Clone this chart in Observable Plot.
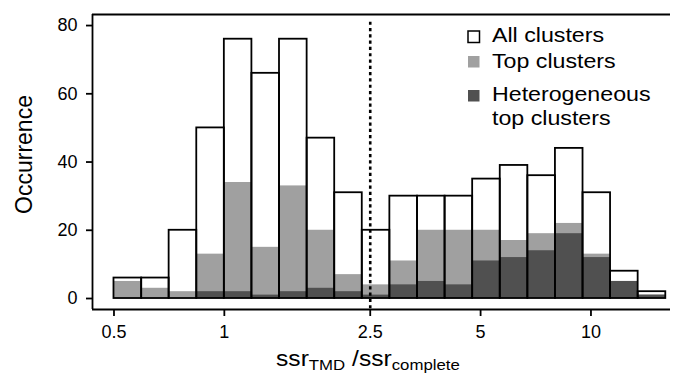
<!DOCTYPE html>
<html><head><meta charset="utf-8">
<script src="https://cdn.jsdelivr.net/npm/d3@7"></script>
<script src="https://cdn.jsdelivr.net/npm/@observablehq/plot@0.6"></script>
<style>body{margin:0;background:#fff} svg{display:block}</style>
</head><body><div id="chart"></div>
<script>
// Bin edges (ratio ssr_TMD / ssr_complete, log-spaced)
const binEdges = [0.5, 0.595, 0.707, 0.841, 1, 1.189, 1.414, 1.682, 2, 2.378, 2.828, 3.364, 4, 4.757, 5.657, 6.727, 8, 9.514, 11.31, 13.45, 16];
const allClusters    = [6, 6, 20, 50, 76, 66, 76, 47, 31, 20, 30, 30, 30, 35, 39, 36, 44, 31, 8, 2];
const topClusters    = [5, 3, 2, 13, 34, 15, 33, 20, 7, 4, 11, 20, 20, 20, 17, 19, 22, 13, 5, 1];
const hetTopClusters = [0, 0, 0, 2, 2, 1, 2, 3, 2, 1, 4, 5, 4, 11, 12, 14, 19, 12, 5, 1];
const xTicks = [0.5, 1, 2.5, 5, 10];
const yTicks = [0, 20, 40, 60, 80];
const threshold = [2.5];
const legendLabels = ["All clusters", "Top clusters", "Heterogeneous", "top clusters"];
const xDomain = [0.4369, 16.48];
const yDomain = [-3.22, 83.24];

const rows = allClusters.map((v, i) => ({
  x1: binEdges[i], x2: binEdges[i + 1], all: v, top: topClusters[i], het: hetTopClusters[i]
}));

const font = "'Liberation Sans', Arial, Helvetica, sans-serif";
const plot = Plot.plot({
  width: 675, height: 378,
  marginLeft: 92, marginRight: 5, marginTop: 14, marginBottom: 69,
  style: {fontFamily: font, fontSize: "18px", background: "#fff", color: "#000"},
  x: {type: "log", domain: xDomain},
  y: {domain: yDomain},
  marks: [
    Plot.rect(rows, {x1: "x1", x2: "x2", y1: 0, y2: "all", fill: "#fff"}),
    Plot.rect(rows, {x1: "x1", x2: "x2", y1: 0, y2: "top", fill: "#a0a0a0"}),
    Plot.rect(rows, {x1: "x1", x2: "x2", y1: 0, y2: "het", fill: "#505050"}),
    Plot.rect(rows, {x1: "x1", x2: "x2", y1: 0, y2: "all", fill: "none", stroke: "#000", strokeWidth: 1.8}),
    Plot.ruleX(threshold, {y1: 81, y2: yDomain[0], stroke: "#000", strokeWidth: 2.6, strokeDasharray: "3.2,3.1"}),
    Plot.ruleY([yDomain[1]], {stroke: "#000", strokeWidth: 1.8}),
    Plot.ruleY([yDomain[0]], {stroke: "#000", strokeWidth: 1.8}),
    Plot.ruleX([xDomain[0]], {stroke: "#000", strokeWidth: 1.8}),
    Plot.axisX({ticks: xTicks, tickFormat: d => String(d), tickSize: 7, tickPadding: 9, label: null, strokeWidth: 1.8}),
    Plot.axisY({ticks: yTicks, tickSize: 6, tickPadding: 9, label: null, strokeWidth: 1.8})
  ]
});
document.getElementById("chart").appendChild(plot);

const svg = d3.select(plot);
// y-axis title
svg.append("text")
  .attr("transform", "translate(32,154.5) rotate(-90)")
  .attr("text-anchor", "middle")
  .style("font-family", font).style("font-size", "23px").attr("fill", "#000")
  .text("Occurrence");

// x-axis title with subscripts
const xt = svg.append("text")
  .attr("transform", "translate(276,366) scale(1.12,1)")
  .attr("text-anchor", "start")
  .style("font-family", font).attr("fill", "#000");
xt.append("tspan").style("font-size", "22px").text("ssr");
xt.append("tspan").style("font-size", "15px").attr("dy", 4).text("TMD");
xt.append("tspan").style("font-size", "22px").attr("dy", -4).text("\u00a0/ssr");
xt.append("tspan").style("font-size", "15px").attr("dy", 4).text("complete");

// legend
const swatches = [
  {fill: "#fff", stroke: "#000", y: 31},
  {fill: "#a0a0a0", stroke: "none", y: 56},
  {fill: "#505050", stroke: "none", y: 90}
];
const lg = svg.append("g");
swatches.forEach(s => {
  lg.append("rect").attr("x", 468).attr("y", s.y).attr("width", 11.5).attr("height", 11.5)
    .attr("fill", s.fill).attr("stroke", s.stroke).attr("stroke-width", 1.5);
});
const baselines = [41.5, 68, 101, 125];
legendLabels.forEach((t, i) => {
  lg.append("text")
    .attr("transform", `translate(492,${baselines[i]}) scale(1.16,1)`)
    .attr("text-anchor", "start")
    .style("font-family", font).style("font-size", "20px").attr("fill", "#000")
    .text(t);
});
</script>
</body></html>
